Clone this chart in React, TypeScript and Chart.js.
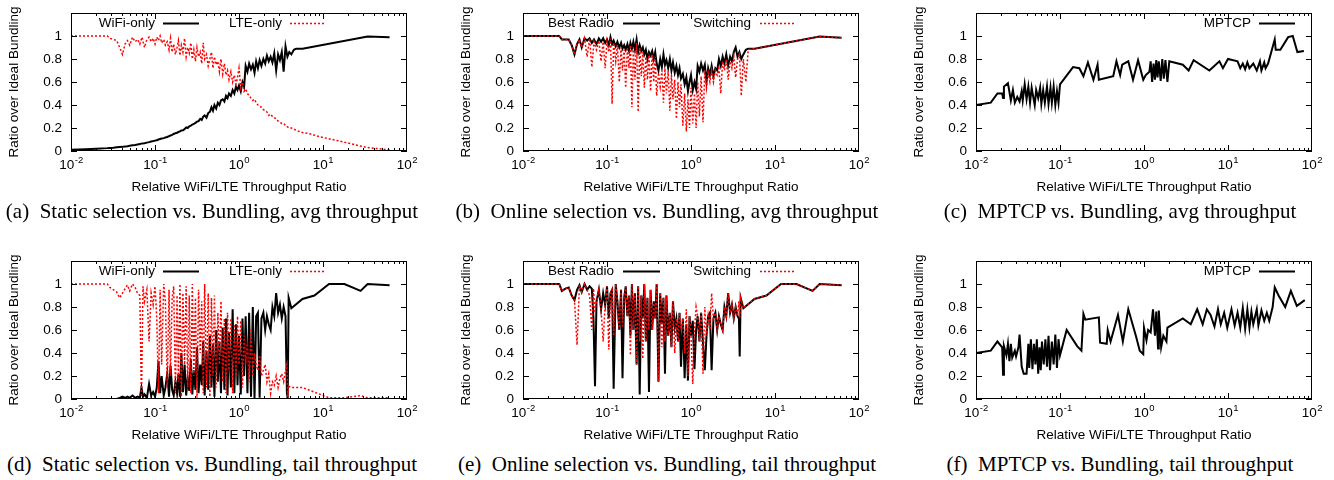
import React, { useEffect, useRef } from "react";
import { Chart, registerables } from "chart.js";
Chart.register(...registerables);

// ---------- shared x values (relative WiFi/LTE throughput ratio) ----------
const X_AVG = [
  0.01, 0.015, 0.02, 0.027, 0.029, 0.032, 0.035, 0.038, 0.041, 0.044,
  0.047, 0.05, 0.054, 0.058, 0.062, 0.066, 0.07, 0.075, 0.08, 0.085,
  0.09, 0.095, 0.1, 0.105, 0.11, 0.115, 0.12, 0.127, 0.133, 0.14,
  0.147, 0.153, 0.16, 0.167, 0.175, 0.183, 0.19, 0.198, 0.206, 0.215,
  0.225, 0.235, 0.245, 0.256, 0.267, 0.278, 0.29, 0.303, 0.316, 0.33,
  0.345, 0.36, 0.375, 0.39, 0.41, 0.43, 0.45, 0.47, 0.49, 0.51,
  0.535, 0.56, 0.585, 0.61, 0.64, 0.67, 0.7, 0.73, 0.76, 0.8,
  0.84, 0.88, 0.92, 0.96, 1.0, 1.05, 1.1, 1.15, 1.2, 1.26,
  1.32, 1.39, 1.46, 1.53, 1.6, 1.68, 1.76, 1.85, 1.95, 2.05,
  2.15, 2.26, 2.38, 2.5, 2.63, 2.77, 2.92, 3.07, 3.23, 3.4,
  3.58, 3.77, 3.97, 4.2, 4.5, 4.8, 5.2, 5.7, 7, 9,
  12, 16, 21, 27, 34, 62,
];

// (a) static selection, avg throughput
const WIFI_AVG = [
  0.01, 0.015, 0.02, 0.025, 0.027, 0.029, 0.032, 0.034, 0.036, 0.04,
  0.042, 0.046, 0.05, 0.053, 0.057, 0.06, 0.066, 0.068, 0.073, 0.077,
  0.082, 0.086, 0.09, 0.094, 0.1, 0.104, 0.108, 0.112, 0.118, 0.122,
  0.13, 0.135, 0.14, 0.148, 0.155, 0.158, 0.165, 0.17, 0.178, 0.18,
  0.19, 0.205, 0.2, 0.215, 0.22, 0.23, 0.235, 0.245, 0.255, 0.26,
  0.28, 0.27, 0.3, 0.31, 0.29, 0.33, 0.34, 0.38, 0.35, 0.4,
  0.37, 0.42, 0.4, 0.44, 0.45, 0.43, 0.48, 0.46, 0.5, 0.48,
  0.53, 0.5, 0.56, 0.53, 0.57, 0.52, 0.6, 0.56, 0.74, 0.69,
  0.76, 0.71, 0.75, 0.68, 0.78, 0.72, 0.79, 0.74, 0.8, 0.76,
  0.83, 0.78, 0.82, 0.77, 0.85, 0.7, 0.84, 0.79, 0.86, 0.69,
  0.91, 0.82, 0.86, 0.84, 0.88, 0.89, 0.89, 0.89, null, null,
  null, null, null, null, 0.995, 0.99,
];
const LTE_AVG = [
  1, 1, 1, 1, 0.98, 0.97, 0.96, 0.9, 0.84, 0.93,
  0.96, 0.92, 0.99, 0.95, 0.97, 0.93, 0.99, 0.9, 0.97, 0.99,
  0.95, 0.98, 0.93, 0.99, 0.96, 1.0, 0.94, 0.97, 0.92, 0.95,
  0.88, 0.98, 0.86, 0.93, 0.84, 0.9, 0.96, 0.83, 0.92, 0.86,
  0.98, 0.82, 0.9, 0.85, 0.94, 0.8, 0.88, 0.78, 0.9, 0.82,
  0.86, 0.76, 0.94, 0.8, 0.84, 0.74, 0.8, 0.86, 0.72, 0.82,
  0.75, 0.78, 0.69, 0.8, 0.67, 0.76, 0.66, 0.7, 0.62, 0.69,
  0.6, 0.66, 0.58, 0.64, 0.72, 0.55, 0.6, 0.52, 0.54, 0.5,
  0.48, 0.46, 0.44, 0.45, 0.42, 0.4, 0.39, 0.38, 0.36, 0.35,
  0.34, 0.31, 0.32, 0.3, 0.29, 0.28, 0.26, 0.25, 0.24, 0.24,
  0.22, 0.21, 0.2, 0.2, 0.19, 0.18, 0.17, 0.16, 0.15, 0.125,
  0.105, 0.085, 0.065, 0.045, 0.03, 0.01,
];

// (b) online selection, avg throughput
const BEST_AVG = [
  1, 1, 1, 1, 0.97, 0.97, 0.97, 0.92, 0.84, 0.93,
  0.97, 0.9, 0.98, 0.96, 0.98, 0.94, 0.97, 0.93, 0.98, 0.95,
  0.98, 0.94, 0.97, 0.92, 0.99, 0.93, 0.96, 0.91, 0.95, 0.9,
  0.94, 0.89, 0.92, 0.88, 0.93, 0.87, 0.94, 0.89, 0.95, 0.88,
  0.97, 0.86, 0.92, 0.87, 0.9, 0.84, 0.88, 0.8, 0.86, 0.83,
  0.87, 0.8, 0.86, 0.76, 0.7, 0.8, 0.73, 0.84, 0.75, 0.79,
  0.72, 0.8, 0.7, 0.77, 0.68, 0.74, 0.66, 0.72, 0.63, 0.67,
  0.58, 0.64, 0.52, 0.6, 0.66, 0.53, 0.6, 0.54, 0.74, 0.69,
  0.76, 0.7, 0.75, 0.6, 0.72, 0.66, 0.74, 0.65, 0.72, 0.7,
  0.8, 0.74, 0.82, 0.76, 0.84, 0.74, 0.82, 0.78, 0.86, 0.9,
  0.82, 0.86, 0.8, 0.84, 0.88, 0.89, 0.89, 0.89, null, null,
  null, null, null, null, 0.995, 0.985,
];
const SWITCH_AVG = [
  1, 1, 1, 1, 0.97, 0.97, 0.97, 0.92, 0.84, 0.93,
  0.97, 0.9, 0.98, 0.82, 0.98, 0.73, 0.95, 0.88, 0.96, 0.78,
  0.95, 0.72, 0.95, 0.86, 0.98, 0.41, 0.94, 0.78, 0.92, 0.6,
  0.9, 0.7, 0.88, 0.55, 0.9, 0.72, 0.92, 0.38, 0.9, 0.62,
  0.94, 0.34, 0.9, 0.65, 0.86, 0.55, 0.82, 0.62, 0.85, 0.52,
  0.84, 0.6, 0.82, 0.48, 0.68, 0.56, 0.7, 0.42, 0.72, 0.5,
  0.7, 0.35, 0.66, 0.45, 0.62, 0.28, 0.6, 0.38, 0.58, 0.22,
  0.5, 0.17, 0.45, 0.2, 0.55, 0.24, 0.5, 0.2, 0.6, 0.3,
  0.65, 0.25, 0.7, 0.55, 0.68, 0.6, 0.7, 0.6, 0.7, 0.66,
  0.72, 0.5, 0.78, 0.7, 0.8, 0.62, 0.78, 0.72, 0.82, 0.64,
  0.8, 0.84, 0.48, 0.8, 0.6, 0.88, 0.89, 0.89, null, null,
  null, null, null, null, 0.995, 0.985,
];

const X_TAIL = [
  0.01, 0.015, 0.02, 0.027, 0.029, 0.032, 0.035, 0.038, 0.041, 0.044,
  0.047, 0.05, 0.054, 0.058, 0.062, 0.066, 0.069, 0.072, 0.075, 0.08,
  0.085, 0.09, 0.095, 0.1, 0.105, 0.11, 0.115, 0.12, 0.127, 0.133,
  0.14, 0.147, 0.153, 0.16, 0.167, 0.175, 0.183, 0.19, 0.198, 0.206,
  0.215, 0.225, 0.235, 0.245, 0.256, 0.267, 0.278, 0.29, 0.303, 0.316,
  0.33, 0.345, 0.36, 0.375, 0.39, 0.41, 0.43, 0.45, 0.47, 0.49,
  0.51, 0.535, 0.56, 0.585, 0.61, 0.64, 0.67, 0.7, 0.73, 0.76,
  0.8, 0.84, 0.88, 0.92, 0.96, 1.0, 1.05, 1.1, 1.15, 1.2,
  1.26, 1.32, 1.39, 1.46, 1.53, 1.6, 1.68, 1.76, 1.85, 1.95,
  2.05, 2.15, 2.26, 2.38, 2.5, 2.63, 2.77, 2.92, 3.07, 3.23,
  3.4, 3.58, 3.72, 3.8, 3.9, 4.2, 5.7, 7.9, 11.8, 18,
  28, 34, 62,
];

// (d) static selection, tail throughput
const WIFI_TAIL = [
  0, 0, 0, 0, 0, 0, 0, 0.01, 0.02, 0.01,
  0.02, 0.01, 0.03, 0.01, 0.02, 0.01, 0.1, 0.02, 0.04, 0.01,
  0.13, 0.03, 0.06, 0.02, 0.1, 0.33, 0.05, 0.2, 0.03, 0.1,
  0.22, 0.02, 0.29, 0.08, 0.03, 0.15, 0.05, 0.22, 0.02, 0.4,
  0.06, 0.3, 0.03, 0.18, 0.07, 0.35, 0.04, 0.25, 0.08, 0.45,
  0.05, 0.3, 0.12, 0.5, 0.03, 0.42, 0.08, 0.55, 0.1, 0.48,
  0.02, 0.6, 0.15, 0.5, 0.05, 0.62, 0.08, 0.7, 0.03, 0.58,
  0.1, 0.78, 0.05, 0.65, 0.12, 0.55, 0.04, 0.7, 0.2, 0.72,
  0.05, 0.75, 0.02, 0.8, 0.0, 0.72, 0.75, 0.01, 0.7, 0.75,
  0.6, 0.72, 0.65, 0.6, 0.8, 0.72, 0.92, 0.75, 0.82, 0.7,
  0.8, 0.72, 0.05, 0.0, 0.88, 0.79, 0.87, 0.9, 1.0, 1.0,
  0.94, 1.0, 0.99,
];
const LTE_TAIL = [
  1, 1, 1, 1, 0.97, 0.95, 0.93, 0.88, 0.92, 0.96,
  0.99, 0.94, 1.0, 0.97, 0.92, 0.9, 0.0, 0.98, 0.85, 0.95,
  0.5, 0.92, 0.82, 0.98, 0.7, 0.05, 0.95, 0.3, 1.0, 0.85,
  0.1, 0.95, 0.2, 0.88, 0.98, 0.05, 0.9, 0.15, 1.0, 0.02,
  0.92, 0.3, 0.98, 0.1, 0.9, 0.05, 1.0, 0.2, 0.88, 0.0,
  0.95, 0.4, 0.85, 0.05, 1.0, 0.1, 0.92, 0.02, 0.88, 0.2,
  0.9, 0.1, 0.75, 0.3, 0.85, 0.15, 0.7, 0.05, 0.75, 0.25,
  0.7, 0.05, 0.65, 0.2, 0.72, 0.3, 0.68, 0.1, 0.55, 0.3,
  0.5, 0.15, 0.6, 0.2, 0.4, 0.3, 0.25, 0.38, 0.2, 0.25,
  0.3, 0.15, 0.22, 0.05, 0.15, 0.12, 0.2, 0.1, 0.18, 0.22,
  0.15, 0.25, 0.3, 0.02, 0.11, 0.1, 0.1, 0.06, 0.01, 0.01,
  0.03, 0.01, 0.01,
];

// (e) online selection, tail throughput
const BEST_TAIL = [
  1, 1, 1, 1, 0.94, 0.96, 0.97, 0.9, 0.86, 0.95,
  0.99, 0.93, 1.0, 0.95, 0.98, 0.96, 0.7, 0.11, 0.85, 0.95,
  0.78, 0.92, 0.82, 0.98, 0.7, 0.92, 0.95, 0.09, 1.0, 0.85,
  0.6, 0.95, 0.18, 0.88, 0.98, 0.72, 0.9, 0.55, 1.0, 0.6,
  0.92, 0.3, 0.98, 0.04, 0.9, 0.7, 1.0, 0.5, 0.88, 0.06,
  0.95, 0.6, 0.85, 0.7, 1.0, 0.15, 0.92, 0.65, 0.88, 0.22,
  0.9, 0.55, 0.75, 0.45, 0.85, 0.62, 0.7, 0.5, 0.75, 0.28,
  0.7, 0.18, 0.65, 0.16, 0.72, 0.55, 0.68, 0.26, 0.6, 0.72,
  0.5, 0.75, 0.48, 0.25, 0.55, 0.72, 0.75, 0.25, 0.7, 0.75,
  0.6, 0.72, 0.65, 0.6, 0.8, 0.72, 0.92, 0.75, 0.82, 0.7,
  0.8, 0.72, 0.7, 0.37, 0.88, 0.79, 0.87, 0.9, 1.0, 1.0,
  0.94, 1.0, 0.99,
];
const SWITCH_TAIL = [
  1, 1, 1, 1, 0.94, 0.96, 0.97, 0.9, 0.86, 0.47,
  0.99, 0.93, 1.0, 0.95, 0.9, 0.6, 0.96, 0.75, 0.85, 0.95,
  0.78, 0.5, 0.82, 0.98, 0.43, 0.92, 0.95, 0.55, 1.0, 0.85,
  0.6, 0.95, 0.62, 0.88, 0.98, 0.72, 0.9, 0.38, 1.0, 0.6,
  0.92, 0.3, 0.98, 0.5, 0.9, 0.35, 1.0, 0.5, 0.88, 0.6,
  0.95, 0.6, 0.85, 0.7, 1.0, 0.15, 0.92, 0.45, 0.88, 0.5,
  0.9, 0.55, 0.75, 0.45, 0.85, 0.4, 0.7, 0.5, 0.75, 0.6,
  0.7, 0.4, 0.78, 0.2, 0.72, 0.55, 0.13, 0.6, 0.8, 0.72,
  0.5, 0.75, 0.22, 0.8, 0.55, 0.72, 0.6, 0.92, 0.7, 0.75,
  0.6, 0.72, 0.65, 0.6, 0.8, 0.72, 0.92, 0.75, 0.82, 0.7,
  0.8, 0.72, 0.85, 0.7, 0.88, 0.79, 0.87, 0.9, 1.0, 1.0,
  0.94, 1.0, 0.99,
];

// (c) MPTCP, avg throughput
const X_MPTCP_AVG = [
  0.01, 0.015, 0.018, 0.0205, 0.021, 0.0215, 0.024, 0.026, 0.0275, 0.029,
  0.031, 0.033, 0.035, 0.036, 0.038, 0.04, 0.042, 0.044, 0.046, 0.048,
  0.05, 0.052, 0.055, 0.058, 0.06, 0.063, 0.066, 0.07, 0.073, 0.077,
  0.08, 0.084, 0.088, 0.092, 0.096, 0.1, 0.143, 0.17, 0.19, 0.215,
  0.25, 0.28, 0.29, 0.43, 0.47, 0.52, 0.55, 0.65, 0.74, 0.85,
  0.98, 1.05, 1.16, 1.2, 1.25, 1.3, 1.35, 1.4, 1.45, 1.5,
  1.58, 1.65, 1.72, 1.8, 1.9, 2.0, 2.9, 3.4, 3.9, 6.0,
  7.9, 8.7, 10, 13, 14, 15, 16, 17, 18, 20,
  22, 24, 25, 27, 28, 30, 36, 37, 42, 52,
  59, 67, 80,
];
const MPTCP_AVG = [
  0.4, 0.42, 0.5, 0.5, 0.46, 0.56, 0.59, 0.44, 0.53, 0.42,
  0.47, 0.43, 0.52, 0.44, 0.58, 0.45, 0.56, 0.42, 0.55, 0.47,
  0.4, 0.53, 0.46, 0.55, 0.41, 0.53, 0.42, 0.56, 0.41, 0.55,
  0.42, 0.56, 0.4, 0.52, 0.42, 0.58, 0.73, 0.72, 0.65, 0.77,
  0.62, 0.75, 0.62, 0.65, 0.78, 0.66, 0.75, 0.78, 0.62, 0.79,
  0.62, 0.66, 0.69, 0.78, 0.6, 0.76, 0.62, 0.79, 0.64, 0.78,
  0.61, 0.8, 0.63, 0.79, 0.6, 0.78, 0.75, 0.7, 0.79, 0.7,
  0.78, 0.72, 0.8, 0.78, 0.72, 0.76, 0.71, 0.77, 0.72, 0.76,
  0.7, 0.78, 0.7, 0.77, 0.72, 0.76, 0.97, 0.88, 0.88, 0.99,
  1.0, 0.86, 0.87,
];

// (f) MPTCP, tail throughput
const X_MPTCP_TAIL = [
  0.01, 0.015, 0.018, 0.0205, 0.021, 0.0215, 0.023, 0.024, 0.025, 0.026,
  0.027, 0.029, 0.03, 0.032, 0.033, 0.035, 0.037, 0.04, 0.042, 0.043,
  0.045, 0.047, 0.049, 0.051, 0.053, 0.055, 0.057, 0.059, 0.061, 0.064,
  0.067, 0.07, 0.073, 0.076, 0.08, 0.084, 0.088, 0.092, 0.096, 0.1,
  0.12, 0.16, 0.18, 0.19, 0.2, 0.29, 0.3, 0.36, 0.37, 0.4,
  0.49, 0.56, 0.65, 0.8, 0.89, 0.98, 1.0, 1.07, 1.12, 1.2,
  1.28, 1.35, 1.4, 1.47, 1.5, 1.6, 1.7, 1.85, 1.9, 2.9,
  3.6, 4.3, 5.0, 5.6, 6.2, 6.9, 7.6, 8.2, 9.0, 9.8,
  11, 12, 13, 14, 15, 16, 17, 18, 19, 20,
  22, 23, 25, 27, 29, 31, 34, 36, 40, 48,
  56, 66, 82,
];
const MPTCP_TAIL = [
  0.4, 0.42, 0.5, 0.45, 0.21, 0.46, 0.38, 0.48, 0.33, 0.48,
  0.36, 0.42, 0.37, 0.45, 0.56, 0.28, 0.22, 0.22, 0.48, 0.27,
  0.52, 0.26, 0.48, 0.3, 0.52, 0.22, 0.45, 0.25, 0.5, 0.3,
  0.52, 0.28, 0.55, 0.25, 0.5, 0.3, 0.56, 0.27, 0.52, 0.38,
  0.6, 0.46, 0.42, 0.74, 0.69, 0.71, 0.49, 0.48, 0.6, 0.5,
  0.73, 0.5, 0.78, 0.55, 0.42, 0.39, 0.62, 0.51, 0.6, 0.58,
  0.78, 0.55, 0.76, 0.44, 0.77, 0.45, 0.55, 0.5, 0.62, 0.7,
  0.65, 0.78, 0.65, 0.78, 0.73, 0.63, 0.78, 0.65, 0.75, 0.62,
  0.78, 0.64, 0.75, 0.62, 0.79, 0.61, 0.78, 0.62, 0.76, 0.65,
  0.78, 0.64, 0.77, 0.68, 0.75, 0.68, 0.8, 0.97, 0.9, 0.8,
  0.94, 0.81, 0.86,
];

// ---------- axes / labels ----------
const X_TICK_EXPONENTS = [-2, -1, 0, 1, 2];
const Y_TICKS = [0, 0.2, 0.4, 0.6, 0.8, 1];
const Y_TICK_LABELS = ["0", "0.2", "0.4", "0.6", "0.8", "1"];
const X_TITLE = "Relative WiFi/LTE Throughput Ratio";
const Y_TITLE = "Ratio over Ideal Bundling";

const SANS = '"Liberation Sans", Arial, Helvetica, sans-serif';
const SERIF = '"Liberation Serif", "Times New Roman", Times, serif';

type Style = "solid" | "dotted";
type SeriesDef = { label: string; y: (number | null)[]; style: Style };
type LegendPos = { textEnd: number; s0: number; s1: number };
type PanelDef = {
  id: string;
  col: number;
  row: number;
  x: number[];
  series: SeriesDef[];
  legend: LegendPos[];
  caption: string;
};

const COL_X = [0, 452, 905];
const ROW_Y = [0, 248];
const CAPTION_X = [212, 667, 1120];
const CAPTION_Y = [211, 464];
const PLOT_L = 71;
const PLOT_R = 407;
const PLOT_T = 13;
const PLOT_B = 151;
const CANVAS_H = 200;

const LEG_STATIC: LegendPos[] = [
  { textEnd: 84, s0: 92, s1: 128 },
  { textEnd: 211, s0: 219, s1: 254 },
];
const LEG_ONLINE: LegendPos[] = [
  { textEnd: 91, s0: 100, s1: 137 },
  { textEnd: 228, s0: 237, s1: 272 },
];
const LEG_MPTCP: LegendPos[] = [{ textEnd: 275, s0: 283, s1: 319 }];

const PANELS: PanelDef[] = [
  {
    id: "a", col: 0, row: 0, x: X_AVG, legend: LEG_STATIC,
    series: [
      { label: "WiFi-only", y: WIFI_AVG, style: "solid" },
      { label: "LTE-only", y: LTE_AVG, style: "dotted" },
    ],
    caption: "(a)\u2002Static selection vs. Bundling, avg throughput",
  },
  {
    id: "b", col: 1, row: 0, x: X_AVG, legend: LEG_ONLINE,
    series: [
      { label: "Best Radio", y: BEST_AVG, style: "solid" },
      { label: "Switching", y: SWITCH_AVG, style: "dotted" },
    ],
    caption: "(b)\u2002Online selection vs. Bundling, avg throughput",
  },
  {
    id: "c", col: 2, row: 0, x: X_MPTCP_AVG, legend: LEG_MPTCP,
    series: [{ label: "MPTCP", y: MPTCP_AVG, style: "solid" }],
    caption: "(c)\u2002MPTCP vs. Bundling, avg throughput",
  },
  {
    id: "d", col: 0, row: 1, x: X_TAIL, legend: LEG_STATIC,
    series: [
      { label: "WiFi-only", y: WIFI_TAIL, style: "solid" },
      { label: "LTE-only", y: LTE_TAIL, style: "dotted" },
    ],
    caption: "(d)\u2002Static selection vs. Bundling, tail throughput",
  },
  {
    id: "e", col: 1, row: 1, x: X_TAIL, legend: LEG_ONLINE,
    series: [
      { label: "Best Radio", y: BEST_TAIL, style: "solid" },
      { label: "Switching", y: SWITCH_TAIL, style: "dotted" },
    ],
    caption: "(e)\u2002Online selection vs. Bundling, tail throughput",
  },
  {
    id: "f", col: 2, row: 1, x: X_MPTCP_TAIL, legend: LEG_MPTCP,
    series: [{ label: "MPTCP", y: MPTCP_TAIL, style: "solid" }],
    caption: "(f)\u2002MPTCP vs. Bundling, tail throughput",
  },
];

function styleOf(s: Style) {
  return s === "solid"
    ? { color: "#000000", width: 2, dash: [] as number[] }
    : { color: "#ff0000", width: 1.5, dash: [2, 2] };
}

function PanelChart({ def }: { def: PanelDef }) {
  const ref = useRef<HTMLCanvasElement | null>(null);
  const left = COL_X[def.col];
  const top = ROW_Y[def.row];
  const width = Math.min(452, 1334 - left);

  useEffect(() => {
    const canvas = ref.current;
    if (!canvas) return;

    const framePlugin = {
      id: "gnuplotFrame",
      afterDraw(chart: any) {
        const ctx: CanvasRenderingContext2D = chart.ctx;
        const { left: L, right: R, top: T, bottom: B } = chart.chartArea;
        const xs = chart.scales.x;
        const ys = chart.scales.y;
        ctx.save();
        ctx.strokeStyle = "#000";
        ctx.lineWidth = 1;
        ctx.setLineDash([]);
        ctx.beginPath();
        for (let e = -2; e <= 1; e++) {
          for (let m = 1; m <= 9; m++) {
            const v = m * Math.pow(10, e);
            const px = Math.round(xs.getPixelForValue(v)) + 0.5;
            const len = m === 1 ? 6 : 3;
            ctx.moveTo(px, B);
            ctx.lineTo(px, B - len);
            ctx.moveTo(px, T);
            ctx.lineTo(px, T + len);
          }
        }
        for (const v of Y_TICKS) {
          const py = Math.round(ys.getPixelForValue(v)) + 0.5;
          ctx.moveTo(L, py);
          ctx.lineTo(L + 6, py);
          ctx.moveTo(R, py);
          ctx.lineTo(R - 6, py);
        }
        ctx.stroke();
        ctx.strokeRect(L + 0.5, T + 0.5, R - L - 1, B - T - 1);

        ctx.fillStyle = "#000";
        // y tick labels
        ctx.font = `13.5px ${SANS}`;
        ctx.textAlign = "right";
        ctx.textBaseline = "middle";
        Y_TICKS.forEach((v, i) => {
          ctx.fillText(Y_TICK_LABELS[i], L - 9, ys.getPixelForValue(v));
        });
        // x tick labels 10^e
        ctx.textAlign = "left";
        ctx.textBaseline = "alphabetic";
        for (const e of X_TICK_EXPONENTS) {
          const px = xs.getPixelForValue(Math.pow(10, e));
          ctx.font = `13.5px ${SANS}`;
          const w1 = ctx.measureText("10").width;
          ctx.font = `9.5px ${SANS}`;
          const ex = String(e);
          const w2 = ctx.measureText(ex).width;
          const sx = px - (w1 + w2) / 2;
          ctx.font = `13.5px ${SANS}`;
          ctx.fillText("10", sx, B + 18);
          ctx.font = `9.5px ${SANS}`;
          ctx.fillText(ex, sx + w1 + 0.5, B + 12);
        }
        // x title
        ctx.font = `13.5px ${SANS}`;
        ctx.textAlign = "center";
        ctx.textBaseline = "middle";
        ctx.fillText(X_TITLE, (L + R) / 2, B + 36);
        // y title
        ctx.save();
        ctx.translate(14, (T + B) / 2);
        ctx.rotate(-Math.PI / 2);
        ctx.fillText(Y_TITLE, 0, 0);
        ctx.restore();
        // legend
        def.series.forEach((s, i) => {
          const pos = def.legend[i];
          if (!pos) return;
          const ly = T + 10;
          ctx.font = `13.5px ${SANS}`;
          ctx.textAlign = "right";
          ctx.textBaseline = "middle";
          ctx.fillStyle = "#000";
          ctx.fillText(s.label, L + pos.textEnd, ly);
          const st = styleOf(s.style);
          ctx.strokeStyle = st.color;
          ctx.lineWidth = st.width;
          ctx.setLineDash(st.dash);
          ctx.beginPath();
          ctx.moveTo(L + pos.s0, Math.round(ly) + 0.5);
          ctx.lineTo(L + pos.s1, Math.round(ly) + 0.5);
          ctx.stroke();
          ctx.setLineDash([]);
        });
        ctx.restore();
      },
    };

    const chart = new Chart(canvas, {
      type: "line",
      data: {
        datasets: def.series.map((s) => {
          const st = styleOf(s.style);
          return {
            label: s.label,
            data: def.x.map((xv, i) => ({ x: xv, y: s.y[i] })),
            borderColor: st.color,
            backgroundColor: st.color,
            borderWidth: st.width,
            borderDash: st.dash,
            pointRadius: 0,
            pointHoverRadius: 0,
            tension: 0,
            fill: false,
            spanGaps: true,
            order: s.style === "dotted" ? 1 : 2,
          };
        }),
      } as any,
      options: {
        responsive: false,
        maintainAspectRatio: false,
        animation: false,
        events: [],
        layout: {
          padding: {
            left: PLOT_L,
            right: width - PLOT_R,
            top: PLOT_T,
            bottom: CANVAS_H - PLOT_B,
          },
        },
        scales: {
          x: { type: "logarithmic", min: 0.01, max: 100, display: false },
          y: { type: "linear", min: 0, max: 1.2, display: false },
        },
        plugins: {
          legend: { display: false },
          tooltip: { enabled: false },
        },
      } as any,
      plugins: [framePlugin],
    });
    return () => chart.destroy();
  }, [def, width]);

  return (
    <canvas
      ref={ref}
      width={width}
      height={CANVAS_H}
      style={{ position: "absolute", left, top, width, height: CANVAS_H }}
    />
  );
}

export default function App() {
  return (
    <div
      style={{
        position: "absolute",
        left: 0,
        top: 0,
        width: 1334,
        height: 480,
        overflow: "hidden",
        background: "#ffffff",
      }}
    >
      {PANELS.map((p) => (
        <PanelChart key={p.id} def={p} />
      ))}
      {PANELS.map((p) => (
        <div
          key={"cap-" + p.id}
          style={{
            position: "absolute",
            left: CAPTION_X[p.col],
            top: CAPTION_Y[p.row] - 13,
            transform: "translateX(-50%)",
            whiteSpace: "nowrap",
            fontFamily: SERIF,
            fontSize: 21,
            lineHeight: "26px",
            color: "#000",
          }}
        >
          {p.caption}
        </div>
      ))}
    </div>
  );
}
